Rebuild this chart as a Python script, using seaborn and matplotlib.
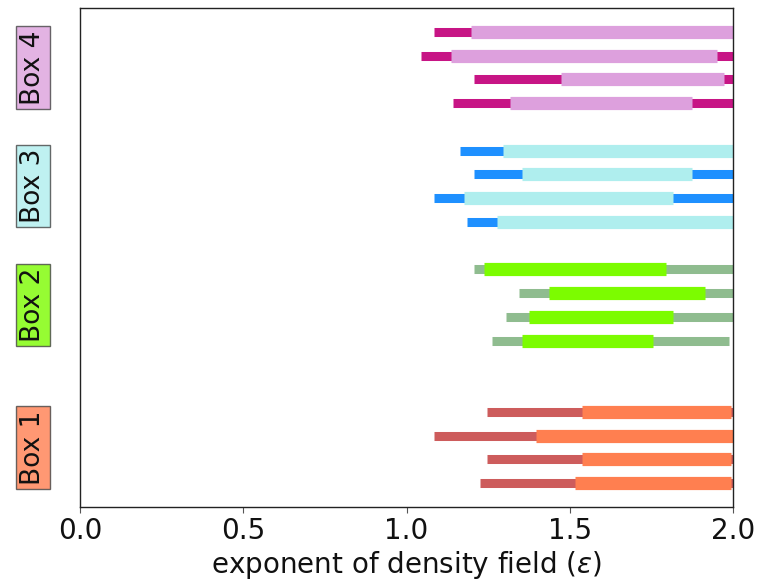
import numpy as np
import pandas as pd
import matplotlib
matplotlib.use("Agg")
import matplotlib.pyplot as plt
import seaborn as sns

# ---- data (rows listed bottom -> top within each box) ----
boxes = ["Box 1", "Box 2", "Box 3", "Box 4"]
outer_lo = [
    [1.226, 1.247, 1.085, 1.247],   # Box 1
    [1.263, 1.305, 1.346, 1.206],   # Box 2
    [1.184, 1.085, 1.206, 1.164],   # Box 3
    [1.143, 1.206, 1.044, 1.084],   # Box 4
]
inner_lo = [
    [1.515, 1.536, 1.396, 1.536],
    [1.354, 1.375, 1.436, 1.238],
    [1.276, 1.176, 1.354, 1.297],
    [1.317, 1.474, 1.135, 1.198],
]
inner_hi = [
    [1.994, 1.994, 2.000, 1.994],
    [1.755, 1.816, 1.915, 1.796],
    [2.000, 1.816, 1.874, 2.000],
    [1.874, 1.972, 1.952, 2.000],
]
outer_hi = [
    [2.000, 2.000, 2.000, 2.000],
    [1.989, 2.000, 2.000, 2.000],
    [2.000, 2.000, 2.000, 2.000],
    [2.000, 2.000, 2.000, 2.000],
]
row_pos = [
    [1, 2, 3, 4],
    [7, 8, 9, 10],
    [12, 13, 14, 15],
    [17, 18, 19, 20],
]
outer_colors = ["indianred", "darkseagreen", "dodgerblue", "mediumvioletred"]
inner_colors = ["coral", "lawngreen", "paleturquoise", "plum"]

rows = []
for b, name in enumerate(boxes):
    for i in range(4):
        rows.append(dict(box=name, y=row_pos[b][i], olo=outer_lo[b][i], ilo=inner_lo[b][i],
                         ihi=inner_hi[b][i], ohi=outer_hi[b][i]))
df = pd.DataFrame(rows)

sns.set_style("white")
plt.rcParams["font.family"] = ["DejaVu Sans"]

fig = plt.figure(figsize=(7.62, 5.8), dpi=100)
ax = fig.add_axes([80 / 762, 73 / 580, 653 / 762, 499 / 580])

for b, name in enumerate(boxes):
    d = df[df.box == name]
    ax.hlines(d.y, d.olo, d.ohi, colors=outer_colors[b], linewidth=6.5, capstyle="butt")
    ax.hlines(d.y, d.ilo, d.ihi, colors=inner_colors[b], linewidth=9.5, capstyle="butt")

ax.set_xlim(0, 2)
ax.set_ylim(0, 21)
ax.set_xticks([0.0, 0.5, 1.0, 1.5, 2.0])
ax.set_xticklabels(["0.0", "0.5", "1.0", "1.5", "2.0"], fontsize=20, color="#111111")
ax.set_yticks([np.mean(r) for r in row_pos])
ax.set_yticklabels(boxes, rotation=90, va="center", fontsize=19, color="#111111")
for lab, c in zip(ax.get_yticklabels(), inner_colors):
    lab.set_bbox(dict(facecolor=c, alpha=0.8, edgecolor="#444444", boxstyle="square,pad=0.15"))
ax.tick_params(axis="x", bottom=True, length=4, width=0.8, color="#555555", pad=3)
ax.tick_params(axis="y", left=False, pad=21)
ax.set_xlabel(r"exponent of density field ($\varepsilon$)", fontsize=20, color="#111111", labelpad=3)
for s in ax.spines.values():
    s.set_color("#222222")
    s.set_linewidth(1.0)

fig.savefig("out.png", dpi=100)
